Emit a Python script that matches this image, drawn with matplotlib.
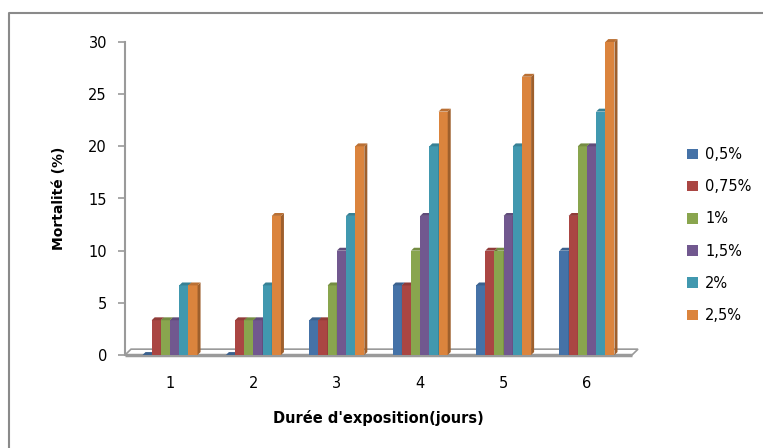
import numpy as np
import matplotlib.pyplot as plt
from matplotlib.patches import Polygon, Rectangle
from matplotlib.lines import Line2D
import matplotlib.colors as mcolors

jours = [1, 2, 3, 4, 5, 6]
series = ["0,5%", "0,75%", "1%", "1,5%", "2%", "2,5%"]
c05 = [0, 0, 3.33, 6.67, 6.67, 10]
c075 = [3.33, 3.33, 3.33, 6.67, 10, 13.33]
c1 = [3.33, 3.33, 6.67, 10, 10, 20]
c15 = [3.33, 3.33, 10, 13.33, 13.33, 20]
c2 = [6.67, 6.67, 13.33, 20, 20, 23.33]
c25 = [6.67, 13.33, 20, 23.33, 26.67, 30]
values = [c05, c075, c1, c15, c2, c25]
colors = ["#4572A7", "#AA4643", "#89A54E", "#71588F", "#4198AF", "#DB843D"]

def darker(c, f=0.7):
    r, g, b = mcolors.to_rgb(c)
    return (r * f, g * f, b * f)

fig = plt.figure(figsize=(7.63, 4.48), dpi=100)
ax = fig.add_axes([125/763, 1 - 355/448, 507/763, 313/448])

x = np.array(jours, dtype=float)
w = 0.11
dx, dy = 0.036, 0.28  # fake depth

# floor
ax.add_patch(Polygon([[0.46, 0], [6.54, 0], [6.54 + 2*dx, 2*dy], [0.46 + 2*dx, 2*dy]],
                     closed=True, facecolor="white", edgecolor="#9a9a9a", lw=1.2,
                     clip_on=False, zorder=1))
ax.plot([0.46, 6.54], [0, 0], color="#9a9a9a", lw=2.5, clip_on=False, zorder=1,
        solid_capstyle="butt")

for i, (vals, col) in enumerate(zip(values, colors)):
    xs = x + (i - 2.5) * w
    ax.bar(xs, vals, width=w, color=col, zorder=3, linewidth=0)
    for xi, v in zip(xs, vals):
        r = xi + w / 2
        l = xi - w / 2
        ax.add_patch(Polygon([[r, 0], [r + dx, dy], [r + dx, v + dy], [r, v]],
                             closed=True, facecolor=darker(col, 0.72), lw=0,
                             zorder=3, clip_on=False))
        ax.add_patch(Polygon([[l, v], [l + dx, v + dy], [r + dx, v + dy], [r, v]],
                             closed=True, facecolor=darker(col, 0.85), lw=0,
                             zorder=3, clip_on=False))

ax.set_xlim(0.46, 6.54)
ax.set_ylim(0, 30)
ax.set_yticks([0, 5, 10, 15, 20, 25, 30])
ax.set_xticks(jours)
for s in ["top", "right", "bottom"]:
    ax.spines[s].set_visible(False)
ax.spines["left"].set_color("#9a9a9a")
ax.spines["left"].set_linewidth(1.5)
ax.tick_params(axis="y", colors="#9a9a9a", length=5, width=1.2, labelsize=10.5,
               labelcolor="black", pad=8)
ax.tick_params(axis="x", length=0, labelsize=10.5, pad=15)
ax.set_ylabel("Mortalité (%)", fontsize=10, fontweight="bold", labelpad=16)
ax.set_xlabel("Durée d'exposition(jours)", fontsize=10.5, fontweight="bold", labelpad=14)

handles = [Rectangle((0, 0), 1, 1, facecolor=c, edgecolor="none") for c in colors]
fig.legend(handles, series, loc="center left", bbox_to_anchor=(674/763, 1 - 235/448),
           frameon=False, fontsize=10.5, handlelength=0.75, handleheight=0.75,
           handletextpad=0.5, labelspacing=1.18)

# outer frame
fig.add_artist(Line2D([9/763, 9/763, 1], [0, 1 - 13/448, 1 - 13/448],
                      transform=fig.transFigure, color="#8a8a8a", lw=1.5))

fig.savefig("out.png", dpi=100)
